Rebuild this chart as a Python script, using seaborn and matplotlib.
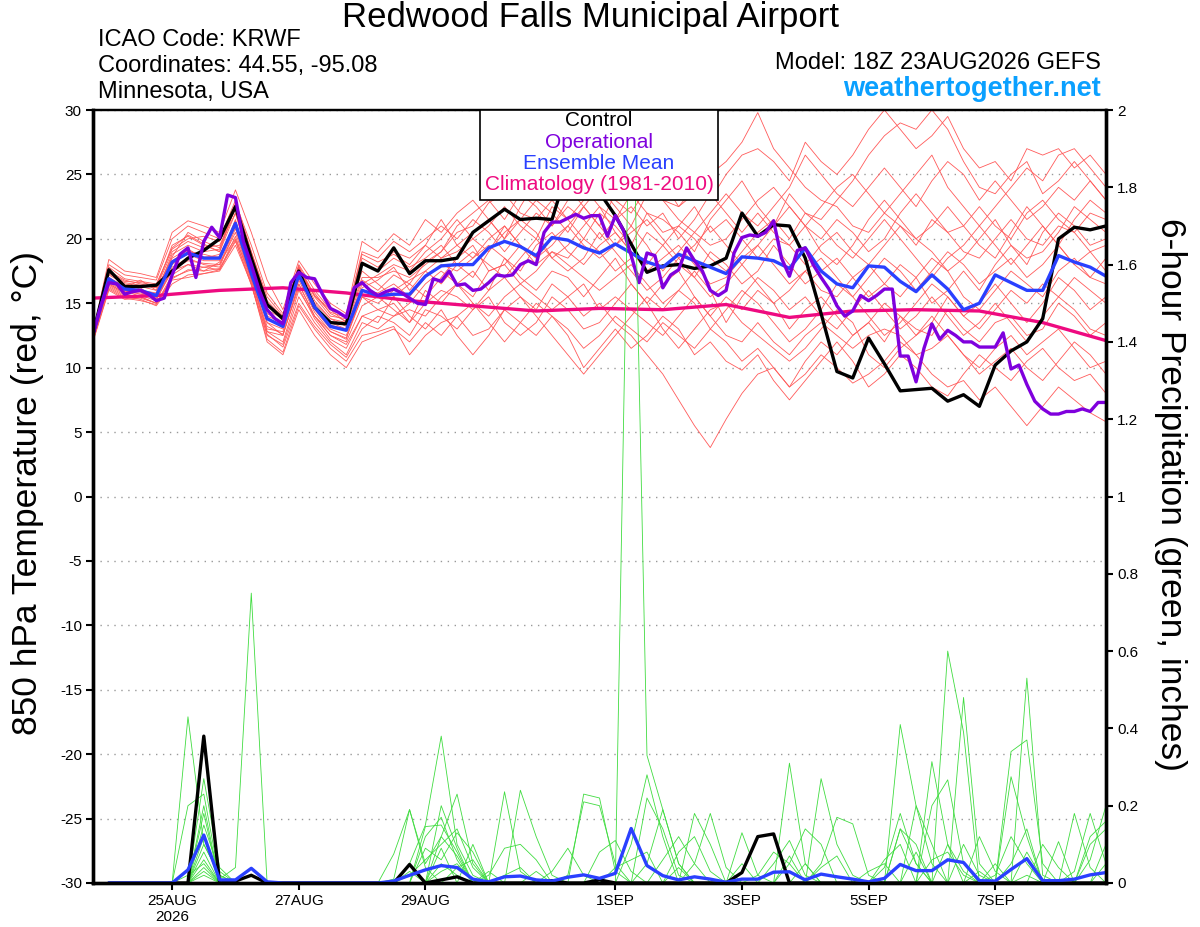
import numpy as np
import pandas as pd
import seaborn as sns
import matplotlib.pyplot as plt
import matplotlib.dates as mdates
from matplotlib.ticker import FormatStrFormatter
from matplotlib.patches import Rectangle

# ---- time axes (GEFS 18Z 23AUG2026 run, 6-hourly; operational 3-hourly) ----
times = pd.date_range('2026-08-23 18:00', periods=65, freq='6h')
op_times = pd.date_range('2026-08-23 18:00', periods=129, freq='3h')
clim_times = pd.date_range('2026-08-23 18:00', periods=17, freq='24h')

tick_dates = pd.to_datetime(['2026-08-25', '2026-08-27', '2026-08-29', '2026-09-01',
                             '2026-09-03', '2026-09-05', '2026-09-07'])
tick_labels = ['25AUG\n2026', '27AUG', '29AUG', '1SEP', '3SEP', '5SEP', '7SEP']

# ---- 850 hPa temperature (C) ----
control_t = [12.6, 17.6, 16.3, 16.3, 16.4, 17.5, 18.5, 19.1, 20.0, 22.5,
             18.5, 14.9, 13.8, 17.5, 14.7, 13.5, 13.4, 18.1, 17.5, 19.3,
             17.3, 18.3, 18.3, 18.5, 20.5, 21.4, 22.3, 21.5, 21.6, 21.5,
             25.5, 24.8, 23.6, 21.8, 19.6, 17.4, 17.9, 18.0, 17.7, 17.9,
             18.5, 22.0, 20.2, 21.1, 21.0, 18.5, 14.2, 9.7, 9.2, 12.3,
             10.3, 8.2, 8.3, 8.4, 7.4, 7.9, 7.0, 10.2, 11.3, 12.0,
             13.8, 20.0, 20.9, 20.7, 21.0]

oper_t = [12.6, 14.8, 16.6, 16.5, 15.7, 15.9, 16.0, 15.7, 15.2, 15.4,
          17.2, 18.8, 19.3, 17.0, 19.8, 20.9, 20.1, 23.4, 23.2, 19.8,
          18.0, 16.0, 14.5, 13.8, 13.4, 16.6, 17.4, 17.0, 16.9, 15.7,
          14.6, 14.3, 13.9, 16.2, 16.6, 16.0, 15.6, 15.9, 16.1, 15.8,
          15.4, 15.0, 14.9, 16.9, 16.7, 17.5, 16.4, 16.5, 16.0, 16.1,
          16.6, 17.2, 17.1, 17.2, 18.0, 18.3, 18.0, 20.5, 21.3, 21.3,
          21.6, 21.9, 21.6, 21.8, 21.8, 20.2, 21.8, 20.7, 18.7, 16.6,
          18.9, 18.7, 16.2, 17.2, 17.6, 19.3, 18.3, 17.5, 16.0, 15.6,
          16.0, 18.9, 20.1, 20.3, 20.2, 20.5, 21.4, 18.5, 17.1, 19.1,
          19.3, 18.0, 17.0, 16.1, 14.8, 14.0, 14.4, 15.6, 15.2, 15.6,
          16.1, 16.1, 10.9, 10.9, 8.9, 11.5, 13.4, 12.2, 12.9, 12.5,
          12.0, 12.0, 11.6, 11.6, 11.6, 12.7, 9.9, 10.2, 8.7, 7.4,
          6.8, 6.4, 6.4, 6.6, 6.6, 6.8, 6.6, 7.3, 7.3]

mean_t = [12.6, 16.9, 16.1, 16.0, 15.6, 18.2, 18.9, 18.5, 18.5, 21.2,
          17.3, 13.8, 13.2, 17.2, 14.7, 13.2, 12.9, 16.0, 15.6, 15.7,
          15.7, 17.1, 17.9, 18.0, 18.0, 19.3, 19.8, 19.4, 18.7, 20.1,
          19.9, 19.3, 18.9, 19.6, 18.9, 18.2, 17.8, 18.8, 18.3, 17.8,
          17.3, 18.6, 18.5, 18.3, 17.7, 19.3, 17.5, 16.5, 16.2, 17.9,
          17.8, 16.7, 15.9, 17.2, 16.1, 14.5, 15.0, 17.2, 16.6, 16.0,
          16.0, 18.7, 18.2, 17.8, 17.1]

clim_t = [15.4, 15.6, 16.0, 16.2, 15.8, 15.2, 14.8, 14.4, 14.6,
          14.5, 14.9, 13.9, 14.4, 14.5, 14.4, 13.5, 12.1]

m01 = [12.3, 17.0, 16.3, 16.0, 15.8, 18.8, 19.5, 19.0, 19.2, 22.5,
       18.5, 14.2, 13.5, 17.8, 15.2, 13.8, 13.2, 16.8, 16.0, 17.2,
       16.5, 18.2, 19.0, 20.5, 21.0, 22.8, 23.5, 22.0, 21.5, 23.0,
       24.0, 22.5, 21.0, 23.5, 24.5, 25.0, 23.0, 22.5, 24.0, 23.0,
       25.0, 26.5, 27.0, 26.0, 24.5, 27.5, 26.0, 25.0, 26.5, 28.5,
       30.0, 28.5, 27.0, 28.0, 29.5, 27.0, 25.5, 26.0, 24.5, 27.0,
       26.5, 27.0, 25.5, 26.5, 25.0]
m02 = [12.5, 17.5, 16.8, 16.5, 16.2, 19.5, 20.2, 19.5, 19.0, 22.0,
       17.8, 13.5, 13.0, 17.5, 14.8, 13.5, 13.0, 16.5, 17.2, 18.0,
       17.5, 19.0, 20.0, 21.5, 20.0, 21.0, 22.5, 21.0, 20.0, 22.5,
       21.5, 20.0, 22.0, 21.0, 19.5, 22.0, 21.5, 20.5, 19.0, 21.5,
       23.0, 24.5, 22.5, 21.0, 23.5, 22.0, 21.5, 23.0, 24.5, 26.5,
       28.0, 29.0, 28.5, 30.0, 28.5, 26.0, 24.0, 23.5, 25.0, 26.0,
       23.5, 24.5, 26.0, 24.5, 23.0]
m03 = [12.2, 16.5, 15.8, 15.8, 15.5, 18.0, 19.0, 18.8, 18.5, 21.5,
       17.0, 13.8, 13.2, 17.0, 14.5, 13.0, 12.5, 15.5, 15.0, 16.0,
       16.8, 17.5, 18.5, 19.5, 20.5, 21.5, 20.0, 21.5, 23.0, 22.0,
       20.5, 22.5, 24.0, 22.5, 21.0, 23.5, 24.5, 22.5, 23.5, 25.0,
       26.0, 27.5, 29.8, 27.0, 25.5, 24.0, 23.0, 22.5, 21.0, 20.5,
       22.0, 21.0, 19.5, 21.5, 20.5, 19.0, 18.5, 20.0, 21.5, 20.0,
       19.5, 21.0, 20.5, 19.0, 19.5]
m04 = [12.4, 16.8, 16.0, 15.5, 15.0, 17.0, 17.5, 17.8, 18.0, 20.5,
       16.8, 12.8, 12.0, 16.0, 14.0, 12.5, 11.8, 14.0, 14.5, 15.0,
       13.5, 15.0, 16.0, 15.5, 14.5, 16.0, 17.0, 15.5, 14.5, 16.5,
       15.5, 14.0, 15.0, 13.5, 12.5, 11.0, 9.5, 7.5, 5.5, 3.8,
       6.0, 8.0, 9.5, 10.0, 8.5, 10.5, 12.0, 11.0, 12.5, 13.5,
       12.0, 14.0, 13.0, 12.5, 14.5, 13.0, 12.0, 13.5, 14.0, 12.5,
       13.0, 15.0, 14.0, 12.5, 13.5]
m05 = [12.1, 16.2, 15.5, 15.3, 14.8, 16.5, 17.2, 17.3, 17.6, 19.8,
       16.5, 12.2, 11.2, 14.8, 13.0, 11.5, 10.5, 12.5, 12.8, 13.2,
       11.0, 12.5, 13.5, 14.0, 12.5, 13.0, 14.5, 13.5, 12.5, 14.0,
       13.0, 11.5, 12.5, 14.0, 13.0, 12.0, 13.5, 12.5, 11.5, 13.0,
       12.0, 10.5, 11.5, 10.0, 8.5, 9.5, 11.0, 10.0, 8.8, 9.5,
       10.5, 12.0, 11.0, 9.5, 8.5, 9.0, 7.5, 8.5, 7.0, 5.5,
       7.0, 8.5, 7.5, 6.5, 5.8]
m06 = [12.6, 17.2, 16.5, 16.3, 16.0, 18.5, 19.2, 18.5, 18.8, 21.0,
       17.5, 14.0, 13.5, 17.5, 15.0, 13.8, 13.5, 17.5, 16.5, 15.5,
       16.5, 15.5, 17.0, 18.5, 19.5, 17.5, 18.0, 19.5, 18.0, 19.0,
       18.5, 20.0, 19.0, 17.5, 18.5, 20.5, 19.5, 18.0, 17.0, 19.0,
       18.0, 16.5, 17.5, 19.5, 18.0, 16.5, 17.5, 18.5, 17.0, 15.5,
       16.5, 18.0, 17.0, 15.0, 16.0, 17.5, 16.0, 18.0, 19.5, 18.0,
       20.5, 22.0, 21.0, 19.5, 20.0]
m07 = [12.3, 16.5, 15.8, 16.2, 15.3, 17.5, 18.0, 17.5, 18.2, 20.0,
       17.0, 12.8, 12.5, 16.5, 14.0, 12.5, 12.0, 14.8, 15.5, 14.5,
       13.5, 16.0, 15.0, 16.5, 17.5, 16.0, 18.5, 17.0, 16.0, 17.5,
       17.0, 15.5, 17.0, 18.5, 16.5, 15.0, 16.5, 17.5, 15.5, 14.0,
       15.5, 14.5, 16.0, 15.0, 13.0, 14.5, 15.5, 14.0, 12.5, 13.5,
       15.0, 14.0, 12.5, 13.5, 15.5, 14.0, 13.0, 14.5, 16.0, 15.0,
       16.5, 15.5, 17.0, 16.0, 15.0]
m08 = [12.5, 18.0, 17.2, 17.0, 16.8, 20.0, 21.0, 20.5, 20.0, 23.0,
       19.0, 15.5, 14.0, 18.0, 16.0, 14.5, 14.0, 19.0, 18.5, 19.8,
       19.0, 20.0, 21.0, 20.0, 21.5, 20.5, 19.0, 20.5, 22.0, 21.0,
       22.5, 21.5, 20.0, 21.5, 23.5, 22.0, 20.5, 21.0, 22.5, 20.5,
       21.5, 20.0, 18.5, 20.0, 19.5, 18.0, 19.5, 20.5, 19.0, 18.0,
       19.5, 21.0, 20.0, 19.0, 17.5, 18.5, 20.0, 21.5, 19.5, 18.5,
       19.0, 20.5, 22.5, 21.5, 20.5]
m09 = [12.2, 16.3, 15.6, 15.6, 15.2, 17.8, 18.5, 18.0, 17.8, 20.8,
       16.8, 13.0, 12.8, 16.8, 14.3, 12.8, 12.3, 15.5, 14.5, 14.0,
       15.0, 16.5, 17.5, 16.5, 15.5, 17.5, 18.0, 16.5, 17.5, 19.0,
       18.0, 17.0, 16.0, 17.0, 18.0, 16.5, 15.0, 16.0, 17.5, 16.0,
       13.5, 15.5, 17.0, 16.0, 14.5, 15.5, 14.0, 13.0, 14.5, 16.0,
       14.5, 13.0, 14.0, 15.5, 14.0, 12.5, 13.5, 15.0, 13.5, 12.0,
       14.0, 15.5, 14.5, 13.0, 12.5]
m10 = [12.4, 17.3, 16.6, 16.4, 16.2, 19.0, 19.8, 19.3, 19.5, 22.0,
       18.0, 14.5, 13.8, 17.8, 15.5, 14.0, 13.8, 18.2, 17.5, 18.5,
       17.8, 18.5, 19.5, 18.0, 17.0, 19.0, 20.5, 21.5, 20.5, 18.5,
       19.5, 21.0, 22.5, 20.5, 19.0, 18.0, 19.5, 21.0, 20.0, 18.5,
       17.5, 19.0, 20.5, 21.5, 20.0, 22.0, 21.0, 19.5, 18.5, 20.0,
       21.5, 20.0, 18.5, 17.0, 18.5, 19.5, 21.0, 19.5, 18.0, 19.5,
       21.0, 19.5, 18.0, 19.0, 17.5]
m11 = [12.0, 16.0, 15.3, 15.4, 15.0, 16.8, 17.0, 17.3, 17.5, 19.5,
       16.5, 12.0, 11.0, 14.5, 12.5, 11.0, 10.0, 12.0, 12.5, 13.0,
       12.0, 13.5, 12.5, 14.0, 15.0, 13.5, 12.0, 13.5, 15.0, 14.0,
       12.5, 10.0, 11.5, 13.0, 11.5, 12.5, 14.0, 13.0, 11.0, 12.0,
       10.5, 9.8, 11.0, 9.0, 7.5, 9.0, 10.5, 12.0, 10.5, 8.5,
       9.5, 11.0, 10.0, 8.5, 7.8, 9.5, 11.0, 10.0, 9.0, 10.5,
       11.5, 10.0, 9.0, 9.5, 8.0]
m12 = [12.7, 18.4, 17.5, 17.3, 17.0, 20.5, 21.4, 21.0, 20.5, 23.8,
       20.5, 16.8, 14.5, 18.3, 16.5, 15.0, 14.2, 19.8, 19.0, 20.4,
       19.5, 21.5, 20.5, 22.0, 23.0, 21.5, 20.0, 22.5, 24.5, 23.0,
       21.5, 23.0, 24.5, 23.0, 22.0, 24.0, 23.0, 21.5, 20.5, 22.0,
       23.5, 22.0, 21.0, 22.5, 24.0, 26.5, 25.0, 23.5, 22.5, 24.0,
       25.5, 24.0, 22.5, 24.5, 26.0, 25.0, 23.0, 24.5, 23.0, 21.5,
       22.5, 24.0, 23.0, 24.5, 23.0]
m13 = [12.3, 16.7, 16.0, 15.7, 15.5, 18.2, 18.8, 18.3, 18.3, 21.3,
       17.2, 13.5, 12.5, 16.5, 14.0, 12.8, 12.2, 16.0, 15.8, 16.5,
       15.5, 17.0, 18.0, 17.5, 18.5, 19.5, 18.5, 17.5, 19.5, 20.5,
       19.0, 18.0, 19.5, 20.5, 19.0, 17.5, 18.5, 19.5, 18.0, 16.5,
       17.0, 18.5, 19.5, 18.0, 16.5, 17.5, 16.0, 15.5, 17.0, 18.0,
       16.5, 15.5, 17.0, 18.5, 17.5, 15.5, 14.5, 16.0, 17.5, 16.5,
       15.5, 17.5, 18.5, 17.0, 16.5]
m14 = [12.5, 17.8, 16.9, 16.7, 16.5, 19.2, 20.0, 20.2, 19.8, 22.3,
       18.8, 15.0, 13.6, 17.2, 15.8, 14.2, 13.6, 18.5, 17.8, 19.0,
       18.5, 19.5, 18.5, 19.0, 20.0, 19.0, 21.0, 19.5, 18.5, 20.0,
       21.0, 19.5, 18.5, 19.5, 21.0, 19.5, 17.5, 19.0, 20.5, 19.5,
       20.0, 21.5, 23.0, 24.0, 22.5, 21.0, 20.0, 21.5, 20.5, 19.0,
       20.0, 22.0, 23.5, 22.0, 20.5, 21.0, 22.5, 21.0, 20.0, 22.0,
       23.0, 21.5, 20.5, 22.0, 21.5]
m15 = [12.2, 16.4, 15.7, 15.5, 15.0, 17.2, 18.0, 17.8, 17.6, 20.2,
       16.6, 12.5, 11.8, 15.5, 13.5, 12.0, 11.0, 13.5, 13.0, 14.0,
       14.5, 14.0, 15.5, 16.5, 15.0, 14.0, 15.5, 16.5, 15.5, 14.5,
       15.5, 16.5, 14.5, 15.5, 14.5, 13.5, 12.5, 14.0, 15.5, 14.0,
       12.5, 12.0, 13.5, 12.0, 11.0, 12.5, 13.5, 12.5, 11.5, 12.5,
       13.0, 12.5, 11.0, 11.5, 12.5, 11.0, 10.0, 11.5, 12.5, 11.0,
       12.0, 13.0, 11.5, 10.0, 10.5]
m16 = [12.4, 17.0, 16.2, 16.8, 16.0, 18.6, 20.5, 19.8, 19.3, 22.8,
       19.5, 15.8, 14.2, 17.6, 15.6, 14.5, 13.5, 17.0, 17.0, 17.5,
       17.0, 18.0, 19.0, 21.0, 22.0, 23.0, 21.5, 23.5, 22.5, 21.0,
       23.0, 24.0, 22.5, 21.5, 22.5, 21.0, 22.0, 20.0, 21.5, 23.5,
       22.0, 20.5, 22.0, 20.5, 19.5, 21.0, 22.5, 24.0, 25.0, 23.5,
       22.0, 23.5, 25.0, 26.5, 24.0, 22.5, 21.0, 22.5, 24.0, 25.5,
       24.5, 26.5, 27.0, 25.5, 24.0]
m17 = [12.3, 16.6, 15.9, 15.9, 15.4, 17.6, 18.3, 18.1, 18.0, 21.0,
       16.9, 13.2, 12.6, 16.2, 13.8, 12.2, 11.5, 14.0, 13.5, 15.5,
       14.0, 13.0, 14.5, 12.5, 11.0, 12.5, 14.5, 15.5, 14.0, 12.5,
       11.0, 9.5, 11.0, 12.5, 14.0, 15.5, 14.5, 16.0, 15.0, 13.0,
       14.5, 16.0, 15.0, 13.5, 12.0, 13.0, 14.5, 16.5, 15.5, 14.0,
       12.5, 13.5, 15.0, 16.5, 15.5, 14.0, 15.0, 16.5, 15.0, 13.5,
       15.0, 17.0, 16.0, 14.5, 15.5]
m18 = [12.5, 17.4, 16.7, 16.6, 16.4, 19.3, 20.3, 19.6, 19.0, 22.6,
       19.0, 15.2, 13.9, 17.9, 15.6, 14.3, 13.9, 18.8, 18.2, 18.8,
       18.0, 19.5, 21.5, 19.5, 18.5, 20.0, 21.0, 19.5, 18.5, 19.5,
       21.0, 22.5, 21.0, 19.5, 20.5, 21.5, 20.0, 18.5, 19.5, 21.0,
       19.5, 18.0, 19.5, 21.0, 22.5, 21.0, 19.0, 18.0, 19.5, 21.5,
       23.0, 21.5, 20.0, 21.0, 22.5, 21.0, 19.5, 18.5, 20.5, 22.5,
       21.0, 19.5, 21.5, 23.0, 22.0]
m19 = [12.4, 16.9, 16.1, 16.0, 15.7, 18.3, 19.1, 18.6, 18.6, 21.4,
       17.4, 13.9, 13.1, 17.1, 14.6, 13.3, 13.0, 16.2, 16.8, 17.8,
       16.0, 17.5, 16.5, 18.0, 19.0, 18.0, 17.0, 18.5, 20.0, 18.5,
       17.5, 18.5, 20.5, 19.0, 17.5, 16.0, 17.0, 18.5, 17.0, 15.5,
       16.5, 18.0, 16.5, 15.0, 16.0, 17.5, 18.5, 17.0, 15.5, 17.0,
       18.5, 17.5, 16.0, 17.5, 19.0, 18.0, 16.5, 17.5, 18.5, 17.0,
       18.0, 19.5, 18.0, 17.0, 18.5]
m20 = [12.1, 16.1, 15.4, 15.2, 14.9, 16.9, 17.6, 17.5, 17.7, 19.9,
       16.4, 12.6, 11.6, 15.0, 13.2, 11.8, 10.8, 13.0, 14.0, 13.5,
       12.5, 14.5, 14.0, 13.0, 14.5, 15.5, 13.5, 12.5, 13.5, 15.5,
       14.5, 13.0, 13.5, 15.0, 16.5, 15.0, 13.0, 11.5, 13.0, 14.5,
       15.0, 13.5, 12.5, 11.5, 10.5, 11.5, 13.0, 14.5, 13.5, 11.0,
       10.0, 11.5, 12.5, 14.0, 12.5, 11.0, 9.5, 10.5, 11.5, 10.0,
       9.0, 10.5, 12.0, 11.0, 9.5]
temp_members = [m01, m02, m03, m04, m05, m06, m07, m08, m09, m10,
                m11, m12, m13, m14, m15, m16, m17, m18, m19, m20]

# ---- 6-hour precipitation (inches); first step has no accumulation ----
control_p = [0, 0, 0, 0, 0, 0, 0, 0.38, 0, 0.005, 0.02, 0, 0,
             0, 0, 0, 0, 0, 0, 0, 0.048, 0, 0.008, 0.016, 0, 0,
             0, 0, 0, 0.006, 0, 0, 0.008, 0, 0, 0, 0, 0, 0,
             0, 0, 0.027, 0.12, 0.127, 0, 0, 0, 0, 0, 0, 0, 0,
             0, 0, 0, 0, 0, 0, 0, 0, 0, 0, 0, 0, 0]
mean_p = [0, 0, 0, 0, 0, 0, 0.034, 0.124, 0.008, 0.008, 0.038, 0.003, 0,
          0, 0, 0, 0, 0, 0, 0.005, 0.02, 0.034, 0.045, 0.04, 0.01, 0.003,
          0.016, 0.018, 0.008, 0.005, 0.015, 0.021, 0.012, 0.025, 0.141, 0.045, 0.019, 0.008, 0.016,
          0.01, 0.002, 0.01, 0.01, 0.028, 0.029, 0.008, 0.023, 0.016, 0.01, 0.003, 0.012, 0.048,
          0.032, 0.032, 0.06, 0.053, 0.006, 0.005, 0.035, 0.063, 0.006, 0.006, 0.01, 0.021, 0.027]

p01 = [0, 0, 0, 0, 0, 0, 0.43, 0.10, 0.02, 0, 0, 0, 0,
       0, 0, 0, 0, 0, 0, 0, 0, 0, 0.05, 0.02, 0, 0,
       0, 0, 0, 0, 0, 0, 0, 0, 2.3, 0.33, 0.19, 0.05, 0,
       0, 0, 0, 0, 0, 0, 0, 0, 0, 0, 0, 0, 0.41,
       0.20, 0.05, 0, 0, 0, 0, 0, 0.02, 0, 0, 0, 0.06, 0.2]
p02 = [0, 0, 0, 0, 0, 0, 0, 0.27, 0.04, 0, 0, 0, 0,
       0, 0, 0, 0, 0, 0, 0, 0.05, 0.15, 0.38, 0.10, 0.02, 0,
       0, 0, 0, 0, 0, 0.23, 0.22, 0.03, 0, 0, 0, 0, 0,
       0, 0, 0, 0, 0, 0.31, 0.05, 0, 0, 0, 0, 0, 0,
       0, 0, 0, 0.48, 0.05, 0, 0, 0.53, 0.02, 0, 0, 0, 0]
p03 = [0, 0, 0, 0, 0, 0, 0.2, 0.23, 0.01, 0.04, 0.75, 0, 0,
       0, 0, 0, 0, 0, 0, 0.01, 0.19, 0.05, 0.12, 0.23, 0.05, 0,
       0, 0, 0, 0, 0, 0, 0, 0, 0, 0.05, 0.19, 0.05, 0,
       0, 0, 0, 0, 0, 0, 0, 0.27, 0.1, 0.02, 0, 0, 0,
       0, 0, 0.60, 0.39, 0, 0, 0, 0, 0, 0, 0.03, 0.18, 0.05]
p04 = [0, 0, 0, 0, 0, 0, 0, 0.20, 0, 0, 0, 0, 0,
       0, 0, 0, 0, 0, 0, 0, 0, 0.12, 0.17, 0.06, 0, 0,
       0.236, 0.03, 0, 0, 0, 0, 0, 0, 0, 0, 0, 0, 0.05,
       0.18, 0.04, 0, 0, 0, 0, 0, 0, 0, 0, 0, 0.04, 0.18,
       0.05, 0, 0, 0, 0, 0, 0.34, 0.37, 0.05, 0, 0, 0, 0]
p05 = [0, 0, 0, 0, 0, 0, 0, 0.18, 0, 0, 0, 0, 0,
       0, 0, 0, 0, 0, 0, 0, 0, 0, 0, 0, 0, 0,
       0, 0.24, 0.12, 0.02, 0, 0, 0, 0, 0, 0, 0, 0, 0,
       0, 0, 0.13, 0.02, 0, 0, 0, 0.05, 0.17, 0.153, 0.02, 0, 0,
       0, 0.314, 0.1, 0, 0, 0, 0, 0, 0, 0, 0, 0, 0.1]
p06 = [0, 0, 0, 0, 0, 0, 0, 0.15, 0.03, 0, 0, 0, 0,
       0, 0, 0, 0, 0, 0, 0, 0.02, 0.06, 0.1, 0.14, 0.04, 0,
       0, 0, 0, 0, 0.02, 0.21, 0.20, 0.05, 0, 0, 0, 0, 0,
       0, 0, 0, 0, 0, 0.05, 0.14, 0.1, 0, 0, 0, 0, 0,
       0, 0.2, 0.267, 0.05, 0, 0, 0.275, 0.12, 0, 0, 0, 0, 0]
p07 = [0, 0, 0, 0, 0, 0, 0, 0.12, 0, 0, 0, 0, 0,
       0, 0, 0, 0, 0, 0, 0.075, 0.19, 0.04, 0, 0, 0, 0.02,
       0.09, 0.1, 0.06, 0, 0, 0, 0, 0, 0, 0, 0, 0.08, 0.12,
       0.03, 0, 0, 0, 0, 0, 0, 0, 0, 0, 0, 0, 0.14,
       0.05, 0, 0, 0, 0, 0, 0, 0, 0, 0.107, 0, 0.12, 0.16]
p08 = [0, 0, 0, 0, 0, 0, 0, 0.1, 0.02, 0, 0, 0, 0,
       0, 0, 0, 0, 0, 0, 0, 0, 0, 0.20, 0.09, 0, 0,
       0, 0, 0, 0, 0, 0, 0, 0, 0, 0.22, 0.14, 0.02, 0,
       0, 0, 0, 0, 0.05, 0.11, 0.02, 0, 0, 0, 0, 0, 0,
       0, 0, 0, 0, 0.12, 0.03, 0, 0.08, 0.01, 0, 0, 0, 0]
p09 = [0, 0, 0, 0, 0, 0, 0, 0.08, 0, 0, 0, 0, 0,
       0, 0, 0, 0, 0, 0, 0, 0, 0.09, 0.06, 0.13, 0.08, 0,
       0, 0, 0, 0.03, 0.09, 0.02, 0, 0, 0, 0, 0, 0, 0.18,
       0.1, 0, 0, 0, 0, 0, 0, 0, 0, 0, 0, 0, 0,
       0.2, 0.1, 0, 0.1, 0.02, 0, 0, 0, 0, 0, 0.18, 0.04, 0]
p10 = [0, 0, 0, 0, 0, 0, 0, 0.06, 0, 0, 0, 0, 0,
       0, 0, 0, 0, 0, 0, 0, 0, 0, 0.03, 0.05, 0, 0,
       0, 0, 0, 0, 0, 0, 0, 0.04, 0.06, 0.08, 0, 0, 0,
       0, 0, 0, 0, 0, 0, 0, 0.04, 0.07, 0, 0, 0, 0.14,
       0.1, 0, 0, 0, 0, 0, 0.05, 0.14, 0, 0, 0, 0.1, 0.14]
p11 = [0, 0, 0, 0, 0, 0, 0.02, 0.05, 0, 0, 0, 0, 0,
       0, 0, 0, 0, 0, 0, 0, 0.03, 0, 0.12, 0.07, 0, 0.03,
       0, 0, 0, 0, 0, 0, 0.08, 0.11, 0.03, 0, 0, 0, 0,
       0, 0, 0, 0.02, 0.08, 0.05, 0, 0, 0, 0, 0, 0.06, 0.1,
       0, 0.06, 0.08, 0.02, 0, 0.02, 0.12, 0.05, 0, 0, 0, 0, 0]
p12 = [0, 0, 0, 0, 0, 0, 0, 0.04, 0, 0, 0, 0, 0,
       0, 0, 0, 0, 0, 0, 0, 0, 0, 0, 0.04, 0.06, 0,
       0.02, 0.04, 0, 0, 0, 0, 0, 0, 0.1, 0.28, 0.12, 0, 0,
       0, 0, 0, 0, 0, 0.07, 0, 0, 0, 0, 0.03, 0.05, 0,
       0, 0, 0, 0, 0.03, 0, 0, 0, 0, 0, 0, 0, 0]
p13 = [0, 0, 0, 0, 0, 0, 0, 0.03, 0, 0, 0, 0, 0,
       0, 0, 0, 0, 0, 0, 0, 0, 0.146, 0.15, 0.08, 0, 0,
       0, 0, 0.03, 0, 0, 0, 0, 0, 0, 0, 0.06, 0.12, 0.05,
       0, 0, 0.05, 0, 0, 0, 0, 0, 0, 0, 0, 0, 0,
       0, 0, 0.1, 0.03, 0, 0, 0, 0, 0.1, 0.04, 0, 0, 0.05]
p14 = [0, 0, 0, 0, 0, 0, 0, 0.02, 0, 0, 0, 0, 0,
       0, 0, 0, 0, 0, 0, 0, 0, 0, 0.09, 0, 0.1, 0,
       0, 0, 0, 0, 0, 0, 0, 0, 0, 0, 0, 0.04, 0,
       0, 0, 0, 0, 0, 0, 0.05, 0, 0, 0, 0, 0, 0,
       0.08, 0, 0, 0, 0, 0.05, 0, 0, 0, 0, 0, 0, 0]
precip_members = [p01, p02, p03, p04, p05, p06, p07,
                  p08, p09, p10, p11, p12, p13, p14]

# colours
RED = '#ff5a5a'
GREEN = '#40dc40'
PURPLE = '#7f00dd'
BLUE = '#2a40ff'
PINK = '#ee0a80'

sns.set_style('white')
plt.rcParams['font.family'] = ['Liberation Sans', 'DejaVu Sans']
plt.rcParams.update({'text.color': 'black', 'axes.labelcolor': 'black',
                     'xtick.color': 'black', 'ytick.color': 'black',
                     'axes.unicode_minus': False})

# long tables for the ensemble spaghetti (precip drawn from the 2nd step on)
n_t = len(temp_members)
df_temp = pd.DataFrame({'time': np.tile(times.values, n_t),
                        'temp': np.concatenate(temp_members),
                        'member': np.repeat(np.arange(n_t), len(times))})
n_p = len(precip_members)
df_prcp = pd.DataFrame({'time': np.tile(times.values[1:], n_p),
                        'prcp': np.concatenate([p[1:] for p in precip_members]),
                        'member': np.repeat(np.arange(n_p), len(times) - 1)})

fig = plt.figure(figsize=(12, 9.27), dpi=100)
ax = fig.add_axes([93 / 1200, 1 - 883 / 927, 1013 / 1200, 773 / 927])
ax2 = ax.twinx()

# temperature
sns.lineplot(data=df_temp, x='time', y='temp', units='member', estimator=None,
             color=RED, linewidth=0.6, ax=ax, legend=False)
sns.lineplot(x=clim_times, y=clim_t, color=PINK, linewidth=2.4, ax=ax)
sns.lineplot(x=times, y=control_t, color='black', linewidth=2.4, ax=ax)
sns.lineplot(x=times, y=mean_t, color=BLUE, linewidth=2.4, ax=ax)
sns.lineplot(x=op_times, y=oper_t, color=PURPLE, linewidth=2.4, ax=ax)

# precipitation
sns.lineplot(data=df_prcp, x='time', y='prcp', units='member', estimator=None,
             color=GREEN, linewidth=0.6, ax=ax2, legend=False)
sns.lineplot(x=times[1:], y=control_p[1:], color='black', linewidth=2.4, ax=ax2)
sns.lineplot(x=times[1:], y=mean_p[1:], color=BLUE, linewidth=2.4, ax=ax2)

ax.set_xlim(times[0], times[-1])
ax.set_ylim(-30, 30)
ax2.set_ylim(0, 2)

ax.set_yticks(np.arange(-30, 31, 5))
ax2.set_yticks(np.arange(0, 2.01, 0.2))
ax2.yaxis.set_major_formatter(FormatStrFormatter('%g'))
ax.set_xticks(mdates.date2num(tick_dates))
ax.set_xticklabels(tick_labels)

ax.yaxis.grid(True, linestyle=(0, (1, 4)), color='#999999', linewidth=1)
ax.xaxis.grid(False)
ax2.grid(False)

for a in (ax, ax2):
    a.tick_params(axis='both', direction='out', length=5, width=1.5,
                  labelsize=11, colors='black', pad=3)
    for side in ('left', 'right', 'bottom'):
        a.spines[side].set_linewidth(2.4)
        a.spines[side].set_color('black')
    a.spines['top'].set_linewidth(1.6)
    a.spines['top'].set_color('black')
ax.tick_params(axis='y', left=True, right=False)
ax2.tick_params(axis='y', left=False, right=True)
ax.tick_params(axis='x', bottom=True)

ax.set_xlabel('')
ax2.set_xlabel('')
ax.set_ylabel('850 hPa Temperature (red, °C)', fontsize=25.5)
ax.yaxis.set_label_coords(-0.048, 0.505)
ax2.set_ylabel('6-hour Precipitation (green, inches)', fontsize=25.5, rotation=270)
ax2.yaxis.set_label_coords(1.080, 0.502)

# legend box (coloured text only)
ax2.add_patch(Rectangle((0.382, 0.8836), 0.235, 0.1164, transform=ax2.transAxes,
                        facecolor='white', edgecolor='black', linewidth=1.2,
                        zorder=20, clip_on=False))
legend_items = [('Control', 'black', 0.9858), ('Operational', PURPLE, 0.9586),
                ('Ensemble Mean', BLUE, 0.9314), ('Climatology (1981-2010)', PINK, 0.9030)]
for label, col, yy in legend_items:
    ax2.text(0.4995, yy, label, color=col, fontsize=15, ha='center', va='center',
             transform=ax2.transAxes, zorder=21)

# header texts
fig.text(590 / 1200, 1 - 18 / 927, 'Redwood Falls Municipal Airport',
         fontsize=25, ha='center', va='center')
for txt, yy in [('ICAO Code: KRWF', 40), ('Coordinates: 44.55, -95.08', 66),
                ('Minnesota, USA', 92)]:
    fig.text(98 / 1200, 1 - yy / 927, txt, fontsize=17, ha='left', va='center')
fig.text(1101 / 1200, 1 - 63 / 927, 'Model: 18Z 23AUG2026 GEFS',
         fontsize=17, ha='right', va='center')
fig.text(1101 / 1200, 1 - 89 / 927, 'weathertogether.net', fontsize=19.5,
         fontweight='bold', color='#0aa0ff', ha='right', va='center')

fig.savefig('out.png', dpi=100)
